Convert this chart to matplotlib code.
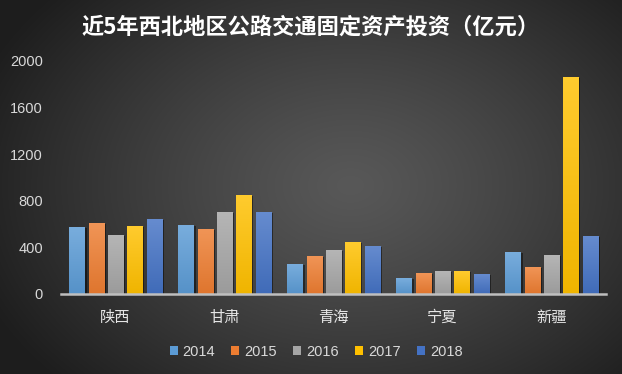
import numpy as np
import matplotlib
matplotlib.use("Agg")
import matplotlib.pyplot as plt
import matplotlib.patheffects as pe
from matplotlib.colors import to_rgb
from matplotlib.patches import Patch

# ---- data ----
categories = ["陕西", "甘肃", "青海", "宁夏", "新疆"]
years = ["2014", "2015", "2016", "2017", "2018"]
v2014 = [573, 590, 255, 135, 358]
v2015 = [608, 556, 324, 178, 229]
v2016 = [504, 702, 376, 195, 333]
v2017 = [582, 848, 444, 195, 1863]
v2018 = [642, 702, 410, 169, 496]
series = [v2014, v2015, v2016, v2017, v2018]
colors = ["#5B9BD5", "#ED7D31", "#A5A5A5", "#FFC000", "#4472C4"]
yticks = [0, 400, 800, 1200, 1600, 2000]
title = "近5年西北地区公路交通固定资产投资（亿元）"

W, H = 622, 374
fig = plt.figure(figsize=(W / 100, H / 100), dpi=100)

# background radial gradient
bg = fig.add_axes([0, 0, 1, 1], zorder=-10)
yy, xx = np.mgrid[0:H, 0:W]
dx = (xx - 350) / 360.0
dy = (yy - 185) / 260.0
r = np.sqrt(dx ** 2 + dy ** 2)
v = 88 - 52 * np.clip(r, 0, 1.3) ** 1.2
v = np.clip(v, 30, 255) / 255.0
bg.imshow(np.dstack([v, v, v]), aspect="auto", extent=[0, 1, 0, 1])
bg.set_axis_off()

ax = fig.add_axes([61 / W, (H - 293.7) / H, (606 - 61) / W, (293.7 - 61) / H])
ax.patch.set_alpha(0)

x = np.arange(len(categories))
step = 0.177
width = 0.138


def shade(c, f):
    c = np.array(to_rgb(c))
    if f > 0:
        return c + (1 - c) * f
    return c * (1 + f)


for i, (vals, col, yr) in enumerate(zip(series, colors, years)):
    pos = x + (i - 2) * step
    bars = ax.bar(pos, vals, width, color=col, label=yr, zorder=2,
                  path_effects=[pe.SimplePatchShadow(offset=(1.5, -1), shadow_rgbFace="black", alpha=0.45),
                                pe.Normal()])
    top = shade(col, 0.18)
    bot = shade(col, -0.06)
    grad = np.linspace(0, 1, 64)[:, None]
    img = top[None, None, :] * (1 - grad[..., None]) + bot[None, None, :] * grad[..., None]
    for b in bars:
        bx, by = b.get_x(), b.get_y()
        bw, bh = b.get_width(), b.get_height()
        im = ax.imshow(img, extent=[bx, bx + bw, by, by + bh], aspect="auto", zorder=3,
                       interpolation="bilinear")
        im.set_clip_path(b)

ax.set_xlim(-0.5, len(categories) - 0.5)
ax.set_ylim(0, 2000)
ax.set_yticks(yticks)
ax.set_yticklabels([str(t) for t in yticks], family=["Liberation Sans"], fontsize=10.5, color="#D9D9D9")
ax.set_xticks(x)
ax.set_xticklabels(categories, family=["Noto Sans CJK SC"], fontsize=11, color="#E6E6E6")
ax.tick_params(axis="both", length=0)
ax.tick_params(axis="y", pad=13)
ax.tick_params(axis="x", pad=11)
for s in ["top", "right", "left"]:
    ax.spines[s].set_visible(False)
ax.spines["bottom"].set_color("#BFBFBF")
ax.spines["bottom"].set_linewidth(1.8)
ax.spines["bottom"].set_zorder(5)

fig.text(0.5, 1 - 27 / H, title, ha="center", va="center", fontsize=16, fontweight="bold",
         color="white", family=["Noto Sans CJK SC"])

handles = [Patch(facecolor=c) for c in colors]
leg = fig.legend(handles, years, loc="center", bbox_to_anchor=(316 / W, 1 - 352 / H), ncol=5,
                 frameon=False, handlelength=0.55, handleheight=0.55, handletextpad=0.35,
                 columnspacing=1.1, prop={"family": "Liberation Sans", "size": 10.5},
                 labelcolor="#D9D9D9")

fig.savefig("out.png", dpi=100)
